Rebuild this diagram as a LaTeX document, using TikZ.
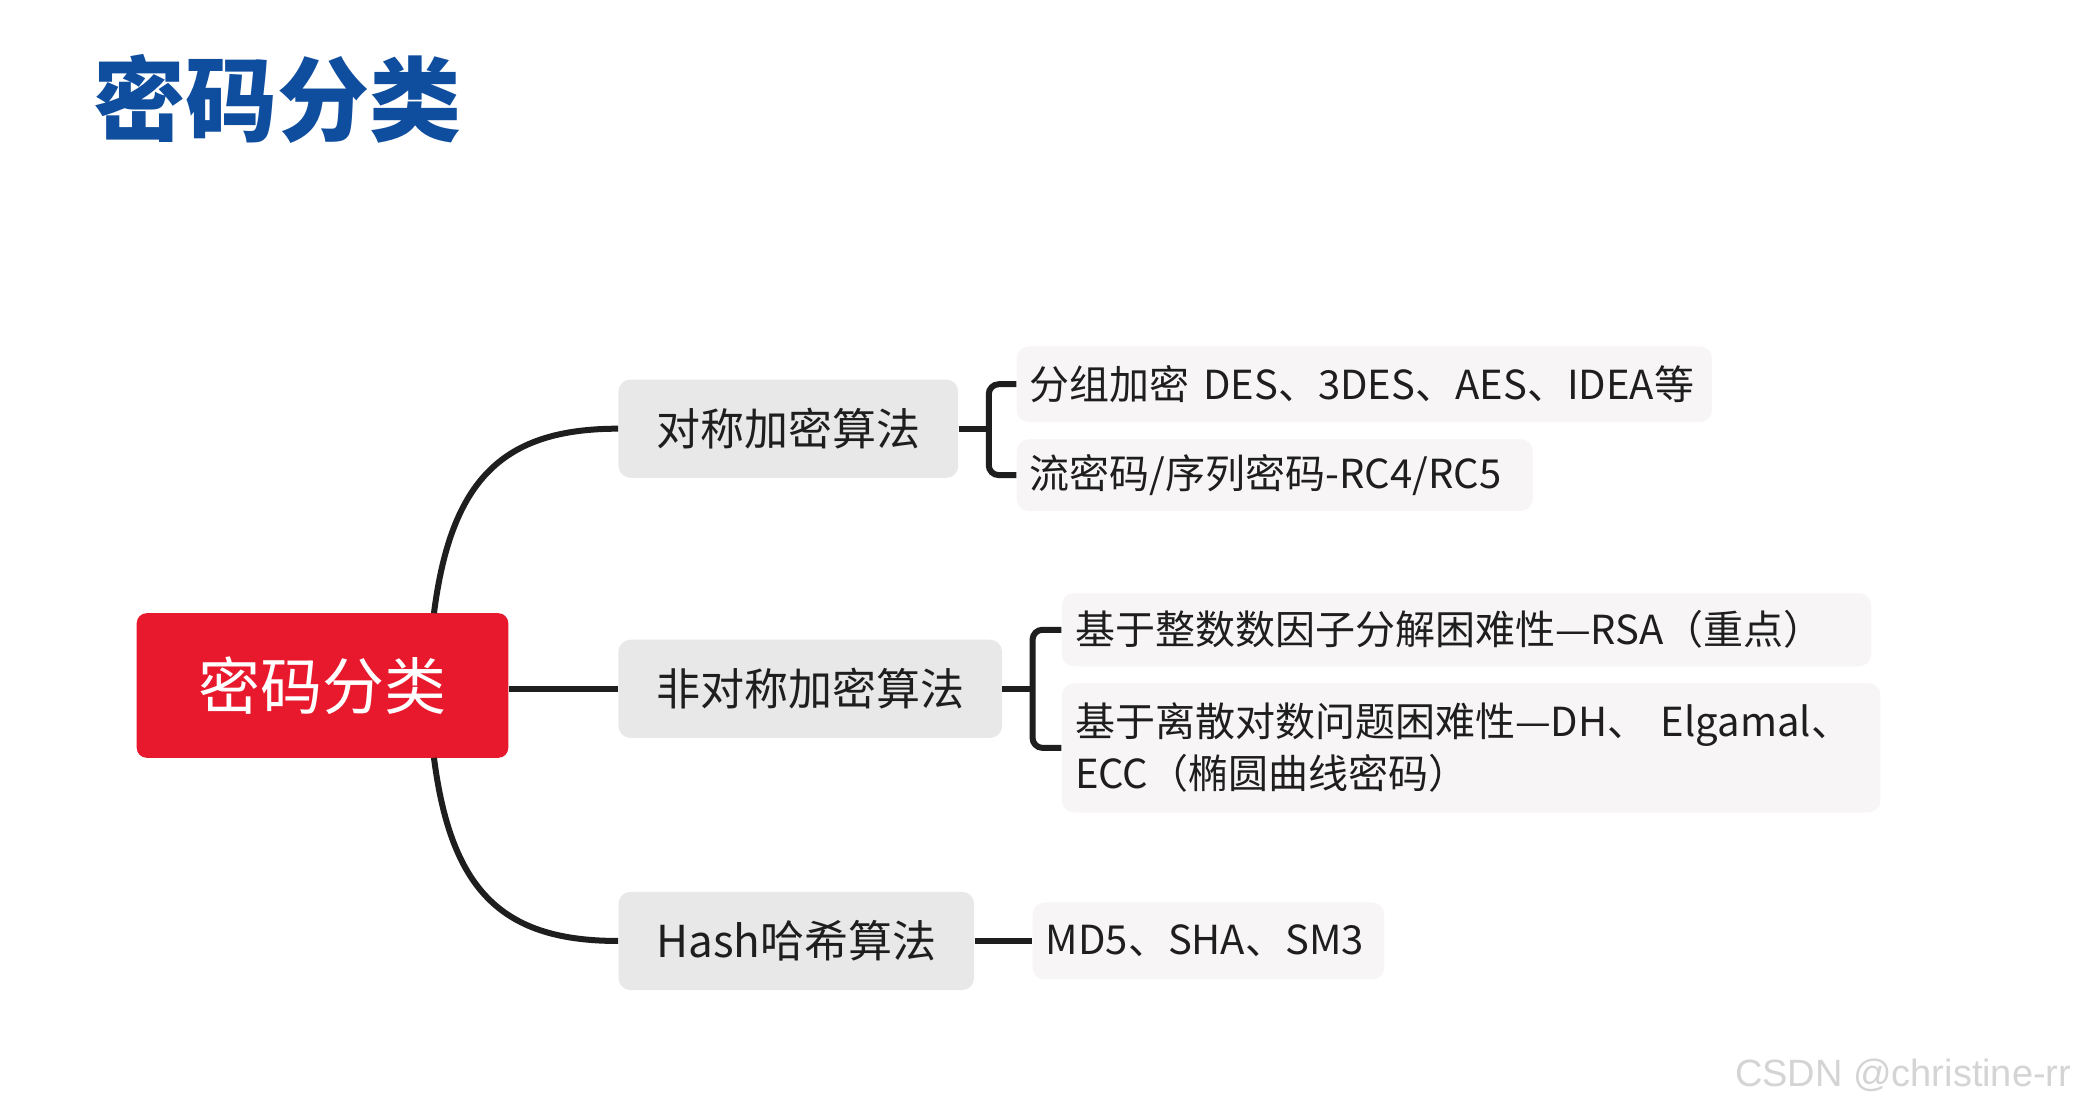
\documentclass[tikz,border=0pt]{standalone}
\usepackage{fontspec}
\setmainfont{Noto Sans CJK SC}
\newfontfamily\wmfont{Liberation Sans}
\definecolor{rootred}{HTML}{E8192C}
\definecolor{titleblue}{HTML}{0F4E9E}
\definecolor{nodegray}{HTML}{E8E8E8}
\definecolor{leafgray}{HTML}{F7F5F5}
\definecolor{txt}{HTML}{1E1E1E}
\definecolor{wmgray}{HTML}{D4D4D4}
\definecolor{linecol}{HTML}{1E1E1E}
\tikzset{
  rootbox/.style={fill=rootred, rounded corners=5pt, text=white, minimum width=185.8pt, minimum height=72.3pt, inner sep=0pt, font=\fontsize{31pt}{36pt}\selectfont},
  catbox/.style={fill=nodegray, rounded corners=6pt, text=txt, minimum height=49.1pt, inner sep=0pt, font=\fontsize{22pt}{26pt}\selectfont},
  leafbox/.style={fill=leafgray, rounded corners=6pt, text=txt, inner xsep=6.6pt, inner ysep=0pt, align=left, font=\fontsize{20pt}{26pt}\selectfont},
  conn/.style={draw=linecol, line width=3pt},
  bracket/.style={draw=linecol, line width=3pt, rounded corners=5pt}
}
\begin{document}
\begin{tikzpicture}[x=0.6636pt, y=-0.6636pt]
\useasboundingbox[fill=white] (0,0) rectangle (1568,834);

% title
\node[anchor=west, inner sep=0pt, text=titleblue, font=\fontsize{46pt}{50pt}\selectfont\bfseries] (title) at (70,74.5) {密码分类};

% root and categories
\node[rootbox] (root) at (243,516.5) {密码分类};
\node[catbox, minimum width=169.9pt] (sym) at (594,323) {对称加密算法};
\node[catbox, minimum width=191.8pt] (asym) at (610.5,519) {非对称加密算法};
\node[catbox, minimum width=177.8pt] (hash) at (600,709) {Hash哈希算法};

% leaves
\node[leafbox, text width=334.4pt, minimum height=37.8pt] (l1a) at (1028,289.5) {分组加密 DES、3DES、AES、IDEA等};
\node[leafbox, text width=244.8pt, minimum height=35.8pt] (l1b) at (960.5,358) {流密码/序列密码-RC4/RC5};
\node[leafbox, text width=391.5pt, minimum height=36.5pt] (l2a) at (1105,474.5) {基于整数数因子分解困难性—RSA（重点）};
\node[leafbox, text width=396.1pt, minimum height=64.4pt] (l2b) at (1108.5,563.5) {基于离散对数问题困难性—DH、 Elgamal、\\ECC（椭圆曲线密码）};
\node[leafbox, text width=162.6pt, minimum height=38.5pt] (l3) at (910.5,709) {MD5、SHA、SM3};

% watermark
\node[anchor=base west, inner sep=0pt, text=wmgray, font=\wmfont\fontsize{19pt}{22pt}\selectfont] (wm) at (1307,819) {CSDN @christine-rr};

% connectors from root
\coordinate (rtop) at (327,462);
\coordinate (rbot) at (327,571);
\draw[conn] (rtop) .. controls (340,360) and (380,323) .. (sym.west);
\draw[conn] (root.east |- asym.west) -- (asym.west);
\draw[conn] (rbot) .. controls (340,673) and (380,709) .. (hash.west);

% brackets
\coordinate (b1) at (745,323);
\coordinate (b2) at (778,519);
\draw[conn] (sym.east) -- (b1);
\draw[bracket] (l1a.west) -| (b1) |- (l1b.west);
\draw[conn] (asym.east) -- (b2);
\draw[bracket] (l2a.west) -| (b2) |- (l2b.west);
\draw[conn] (hash.east) -- (l3.west);
\end{tikzpicture}
\end{document}
